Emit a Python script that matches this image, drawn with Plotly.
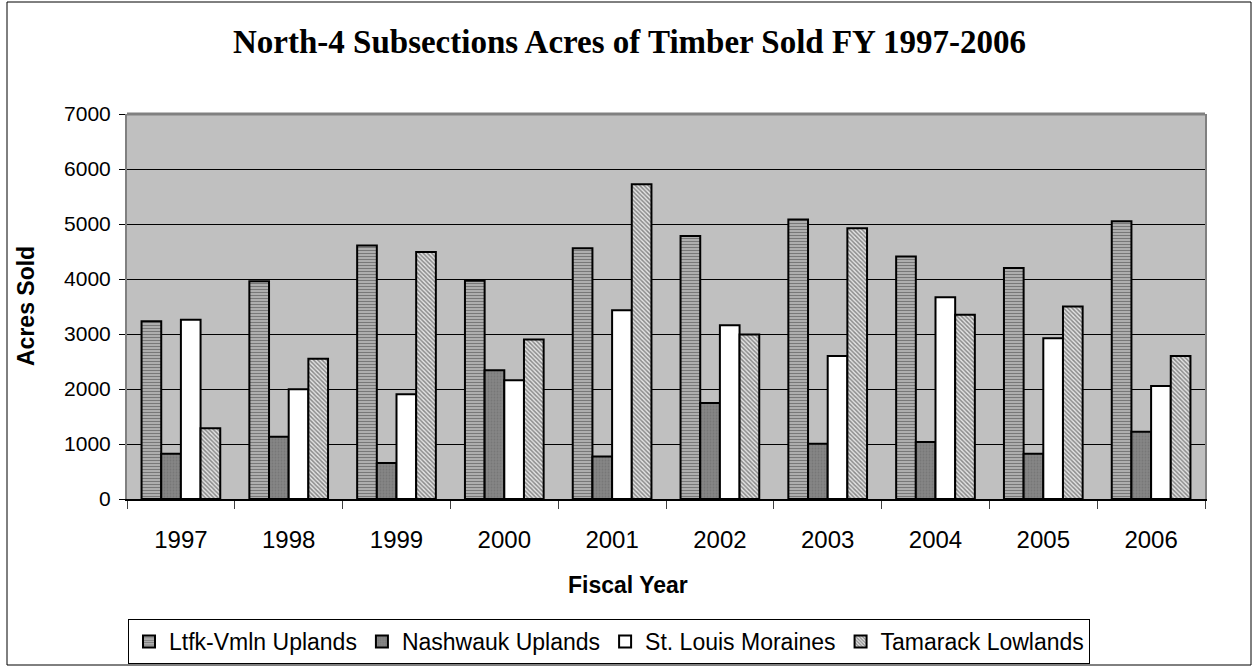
import plotly.graph_objects as go

years = ["1997", "1998", "1999", "2000", "2001", "2002", "2003", "2004", "2005", "2006"]
ltfk = [3230, 3960, 4610, 3970, 4560, 4780, 5080, 4410, 4200, 5050]
nashwauk = [825, 1130, 655, 2340, 775, 1745, 1005, 1035, 825, 1225]
stlouis = [3260, 1995, 1905, 2160, 3430, 3160, 2600, 3670, 2925, 2055]
tamarack = [1285, 2550, 4490, 2900, 5725, 2990, 4925, 3350, 3500, 2600]

series_names = ["Ltfk-Vmln Uplands", "Nashwauk Uplands", "St. Louis Moraines", "Tamarack Lowlands"]

W, H = 1259, 668
L, R, T, B = 127, 54, 114, 169
PW, PH = W - L - R, H - T - B

def px_x(p):
    return (p - L) / PW

def px_y(p):
    return (H - B - p) / PH

fig = go.Figure()
fig.add_trace(go.Bar(
    x=years, y=ltfk, name=series_names[0],
    marker=dict(color="#c0c0c0", line=dict(color="black", width=2),
                pattern=dict(shape="-", fgcolor="#303030", bgcolor="#c0c0c0", size=3, solidity=0.5)),
))
fig.add_trace(go.Bar(
    x=years, y=nashwauk, name=series_names[1],
    marker=dict(color="#808080", line=dict(color="black", width=2),
                pattern=dict(shape=".", fgcolor="#6a6a6a", bgcolor="#858585", size=3, solidity=0.3)),
))
fig.add_trace(go.Bar(
    x=years, y=stlouis, name=series_names[2],
    marker=dict(color="white", line=dict(color="black", width=2)),
))
fig.add_trace(go.Bar(
    x=years, y=tamarack, name=series_names[3],
    marker=dict(color="white", line=dict(color="black", width=2),
                pattern=dict(shape="\\", fgcolor="#303030", bgcolor="#e4e4e4", size=3, solidity=0.5)),
))

fig.update_layout(
    width=W, height=H,
    margin=dict(l=L, r=R, t=T, b=B, autoexpand=False),
    paper_bgcolor="white",
    plot_bgcolor="#C0C0C0",
    barmode="group",
    bargap=0.27,
    bargroupgap=0,
    font=dict(family="Liberation Sans, Arial", color="black"),
    title=dict(
        text="<b>North-4 Subsections Acres of Timber Sold FY 1997-2006</b>",
        font=dict(family="Liberation Serif, Times New Roman", size=33, color="black"),
        x=0.5, xref="container", xanchor="center",
        y=1 - 41 / H, yref="container", yanchor="middle",
    ),
    xaxis=dict(
        type="category",
        showline=True, linecolor="black", linewidth=2,
        ticks="outside", tickson="boundaries", ticklen=8, tickcolor="#404040", tickwidth=1,
        tickfont=dict(size=24),
        ticklabelstandoff=18,
        showgrid=False,
    ),
    yaxis=dict(
        range=[0, 7000], dtick=1000,
        showline=True, linecolor="#808080", linewidth=2, mirror=True,
        ticks="outside", ticklen=6, tickcolor="black", tickwidth=1,
        tickfont=dict(size=21),
        ticklabelstandoff=4,
        showgrid=True, gridcolor="black", gridwidth=1,
        zeroline=False,
    ),
    legend=dict(
        orientation="h",
        x=px_x(128), xanchor="left",
        y=px_y(619), yanchor="top",
        bordercolor="black", borderwidth=1, bgcolor="white",
        font=dict(size=23),
        traceorder="normal",
        valign="middle",
    ),
    showlegend=True,
)

fig.add_shape(type="line", xref="paper", yref="paper", x0=0, x1=1, y0=1, y1=1,
              line=dict(color="#808080", width=3))
fig.add_shape(type="rect", xref="paper", yref="paper",
              x0=px_x(7), x1=px_x(1251), y0=px_y(665), y1=px_y(2),
              line=dict(color="black", width=1))

fig.add_annotation(text="<b>Fiscal Year</b>", xref="paper", yref="paper",
                   x=px_x(628), y=px_y(585), showarrow=False,
                   font=dict(size=23), xanchor="center", yanchor="middle")
fig.add_annotation(text="<b>Acres Sold</b>", xref="paper", yref="paper",
                   x=px_x(26), y=px_y(306), showarrow=False, textangle=-90,
                   font=dict(size=23), xanchor="center", yanchor="middle")

fig.write_html("out.html", config={"displayModeBar": False},
               post_script="document.body.style.margin='0px';")
